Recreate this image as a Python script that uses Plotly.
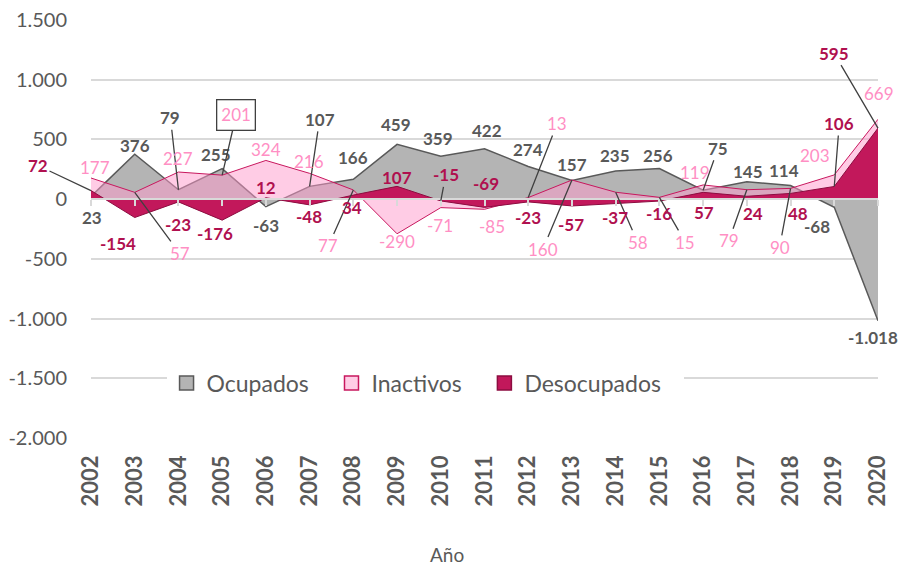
import plotly.graph_objects as go

# ---------------- data ----------------
years = list(range(2002, 2021))
year_labels = [str(y) for y in years]
ocupados = [23, 376, 79, 255, -63, 107, 166, 459, 359, 422, 274, 157, 235, 256, 75, 145, 114, -68, -1018]
inactivos = [177, 57, 227, 201, 324, 216, 77, -290, -71, -85, 13, 160, 58, 15, 119, 79, 90, 203, 669]
desocupados = [72, -154, -23, -176, 12, -48, 34, 107, -15, -69, -23, -57, -37, -16, 57, 24, 48, 106, 595]
series_names = ["Ocupados", "Inactivos", "Desocupados"]
y_ticks = [1500, 1000, 500, 0, -500, -1000, -1500, -2000]
y_ticktext = ["1.500", "1.000", "500", "0", "-500", "-1.000", "-1.500", "-2.000"]

# label placement (pixel offsets from the point: dx, dy(down), leader line?)
ocu_pos = [(1, 21, 0), (0, -9, 0), (-8, -72, 1), (-6, -14, 0), (0, 19, 0), (10, -67, 1), (0, -22, 0),
           (-1, -20, 0), (-3, -18, 0), (2, -18, 0), (0, -17, 0), (0, -16, 0), (-1, -16, 0), (-1, -13, 0),
           (15, -42, 1), (1, -10, 0), (-7, -15, 0), (-17, 19, 0), (-5, 17, 0)]
ina_pos = [(4, -11, 0), (45, 61, 1), (0, -14, 0), (14, -60, 1), (0, -11, 0), (-1, -12, 0), (-25, 56, 1),
           (0, 8, 0), (-1, 18, 0), (7, 17, 0), (29, -74, 1), (-29, 69, 1), (22, 50, 1), (26, 45, 1),
           (-8, -12, 0), (-18, 51, 1), (-11, 59, 1), (-19, -19, 0), (1, -26, 0)]
des_pos = [(-53, -25, 1), (-17, 26, 0), (0, 23, 0), (-7, 13, 0), (0, -10, 0), (-1, 12, 0), (-1, 12, 0),
           (0, -9, 0), (5, -26, 1), (1, -24, 0), (0, 16, 0), (-1, 19, 0), (-1, 14, 0), (0, 12, 0),
           (1, 20, 0), (6, 17, 0), (7, 20, 0), (5, -63, 1), (-44, -75, 1)]

FONT = "Lato, Carlito, Calibri, sans-serif"
GREY_TXT = "#595959"

fills = ["#b4b4b4", "rgba(255,153,204,0.5)", "#c2185b"]
edges = ["#595959", "#c8175e", "#8c0d40"]
legend_fills = ["#b4b4b4", "#ffcce5", "#c2185b"]


def fmt(v):
    s = f"{abs(v):,}".replace(",", ".")
    return ("-" if v < 0 else "") + s


fig = go.Figure()
for name, vals, fc, ec, w in zip(series_names, [ocupados, inactivos, desocupados], fills, edges,
                                 [1.5, 1, 1]):
    fig.add_trace(go.Scatter(x=years, y=vals, name=name, mode="lines", fill="tozeroy",
                             fillcolor=fc, line=dict(color=ec, width=w), showlegend=False))
# legend entries with square symbols
for name, fc, ec in zip(series_names, legend_fills, edges):
    fig.add_trace(go.Scatter(x=[None], y=[None], name=name + "\u00a0\u00a0\u00a0", mode="markers",
                             marker=dict(symbol="square", size=14, color=fc,
                                         line=dict(color=ec, width=1.5)),
                             showlegend=True))
# helper trace for the category axis drawn at zero
fig.add_trace(go.Scatter(x=years, y=ocupados, xaxis="x2", mode="lines", line=dict(width=0),
                         showlegend=False, hoverinfo="skip"))

annotations = []


def add_labels(values, positions, color, bold, boxed_index=None):
    for i, (v, (dx, dy, lead)) in enumerate(zip(values, positions)):
        txt = fmt(v)
        if bold:
            txt = "<b>" + txt + "</b>"
        a = dict(x=years[i], y=v, xref="x", yref="y", text=txt,
                 font=dict(family=FONT, size=17, color=color))
        if lead:
            a.update(showarrow=True, ax=dx, ay=dy, arrowhead=0, arrowwidth=1.3,
                     arrowcolor="#404040", standoff=0)
        else:
            a.update(showarrow=False, xshift=dx, yshift=-dy)
        if boxed_index is not None and i == boxed_index:
            a.update(bordercolor="#404040", borderwidth=1.3, borderpad=4, bgcolor="white")
        annotations.append(a)


add_labels(ocupados, ocu_pos, GREY_TXT, True)
add_labels(inactivos, ina_pos, "#ff8fc4", False, boxed_index=3)
add_labels(desocupados, des_pos, "#b0104f", True)

annotations.append(dict(text="Año", xref="paper", yref="paper", x=0.452, y=-0.278,
                        showarrow=False, font=dict(family=FONT, size=19, color=GREY_TXT),
                        xanchor="center", yanchor="middle"))

fig.update_layout(
    width=902, height=567,
    margin=dict(l=91, r=24, t=20, b=129, pad=0),
    paper_bgcolor="white", plot_bgcolor="white",
    font=dict(family=FONT, color=GREY_TXT),
    showlegend=True,
    legend=dict(orientation="h", x=0.096, y=0.1316, xanchor="left", yanchor="middle",
                font=dict(family=FONT, size=23, color=GREY_TXT), bgcolor="white",
                traceorder="normal", itemwidth=30),
    annotations=annotations,
    xaxis=dict(range=[2002, 2020], tickvals=years, ticktext=year_labels, tickangle=-90,
               tickfont=dict(family=FONT, size=22, color=GREY_TXT, weight="bold"),
               showgrid=False, zeroline=False, showline=False, ticks="",
               ticklabelstandoff=12, automargin=False),
    xaxis2=dict(range=[2002, 2020], overlaying="x", anchor="free", position=2000 / 3500,
                tickvals=years, ticks="outside", ticklen=6, tickcolor="#d9d9d9", tickwidth=1.5,
                showticklabels=False, showline=True, linecolor="#d9d9d9", linewidth=1.5,
                showgrid=False, zeroline=False, automargin=False),
    yaxis=dict(range=[-2000, 1500], tickvals=y_ticks, ticktext=y_ticktext,
               tickfont=dict(family=FONT, size=20, color=GREY_TXT),
               showgrid=True, gridcolor="#d9d9d9", gridwidth=1.5, zeroline=False,
               showline=False, ticks="", ticklabelstandoff=23, automargin=False),
)

fig.write_html("out.html", config={"displayModeBar": False},
               post_script="document.body.style.margin='0';")
